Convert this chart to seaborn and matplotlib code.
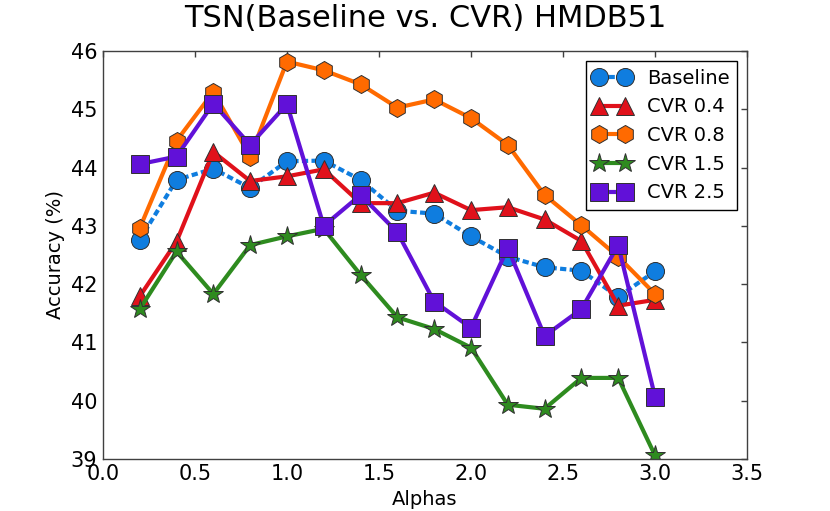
import numpy as np
import matplotlib
matplotlib.use("Agg")
import matplotlib.pyplot as plt
import seaborn as sns

sns.set_theme(style="white")
plt.rcParams['font.family'] = ['DejaVu Sans']
plt.rcParams['text.color'] = 'black'
plt.rcParams['axes.labelcolor'] = 'black'
plt.rcParams['xtick.color'] = 'black'
plt.rcParams['ytick.color'] = 'black'

# Values
alphas = [0.2, 0.4, 0.6, 0.8, 1.0, 1.2, 1.4, 1.6, 1.8, 2.0, 2.2, 2.4, 2.6, 2.8, 3.0]
baseline = [42.76, 43.79, 43.98, 43.65, 44.11, 44.12, 43.79, 43.26, 43.21, 42.82,
            42.47, 42.29, 42.23, 41.78, 42.22]
cvr_04 = [41.79, 42.73, 44.27, 43.77, 43.85, 43.97, 43.39, 43.39, 43.57, 43.27,
          43.32, 43.11, 42.74, 41.63, 41.73]
cvr_08 = [42.96, 44.46, 45.30, 44.19, 45.82, 45.67, 45.43, 45.03, 45.17, 44.85,
          44.39, 43.53, 43.01, 42.47, 41.83]
cvr_15 = [41.57, 42.56, 41.83, 42.67, 42.82, 42.95, 42.16, 41.43, 41.23, 40.91,
          39.93, 39.86, 40.39, 40.39, 39.06]
cvr_25 = [44.06, 44.19, 45.10, 44.39, 45.09, 43.00, 43.53, 42.89, 41.70, 41.25,
          42.62, 41.11, 41.57, 42.67, 40.07]

series = [
    ("Baseline", baseline, "#0f7ddf", "o", (0, (1.5, 0.8))),
    ("CVR 0.4", cvr_04, "#e0111b", "^", "-"),
    ("CVR 0.8", cvr_08, "#ff6a00", "h", "-"),
    ("CVR 1.5", cvr_15, "#2e8b1f", "*", "-"),
    ("CVR 2.5", cvr_25, "#6111d8", "s", "-"),
]

fig, ax = plt.subplots(figsize=(8.3, 5.11), dpi=100)
fig.subplots_adjust(left=0.124, right=0.9, bottom=0.102, top=0.9)

for label, vals, color, marker, ls in series:
    ms = 15 if marker == "*" else 13
    sns.lineplot(x=alphas, y=vals, ax=ax, label=label, color=color,
                 linewidth=3, linestyle=ls, marker=marker, markersize=ms,
                 markeredgecolor="#303030", markeredgewidth=0.7)

ax.set_xlim(0, 3.5)
ax.set_ylim(39, 46)
ax.set_xticks(np.arange(0, 3.51, 0.5))
ax.set_xticklabels([f"{t:.1f}" for t in np.arange(0, 3.51, 0.5)])
ax.set_yticks(range(39, 47))

ax.tick_params(direction="in", top=True, right=True, length=4, width=1,
               labelsize=15, pad=4, color="#404040", labelcolor="black")
for sp in ax.spines.values():
    sp.set_color("#404040")
    sp.set_linewidth(1)

ax.set_title("TSN(Baseline vs. CVR) HMDB51", fontsize=22, pad=17, color="black")
ax.set_xlabel("Alphas", fontsize=14)
ax.set_ylabel("Accuracy (%)", fontsize=14)

leg = ax.legend(loc="upper right", numpoints=2, fontsize=14, fancybox=False,
                framealpha=1, edgecolor="black", handlelength=1.95,
                labelspacing=0.5)
leg.get_frame().set_linewidth(1)
for t in leg.get_texts():
    t.set_color("black")

plt.savefig("out.png", dpi=100)
plt.close()
